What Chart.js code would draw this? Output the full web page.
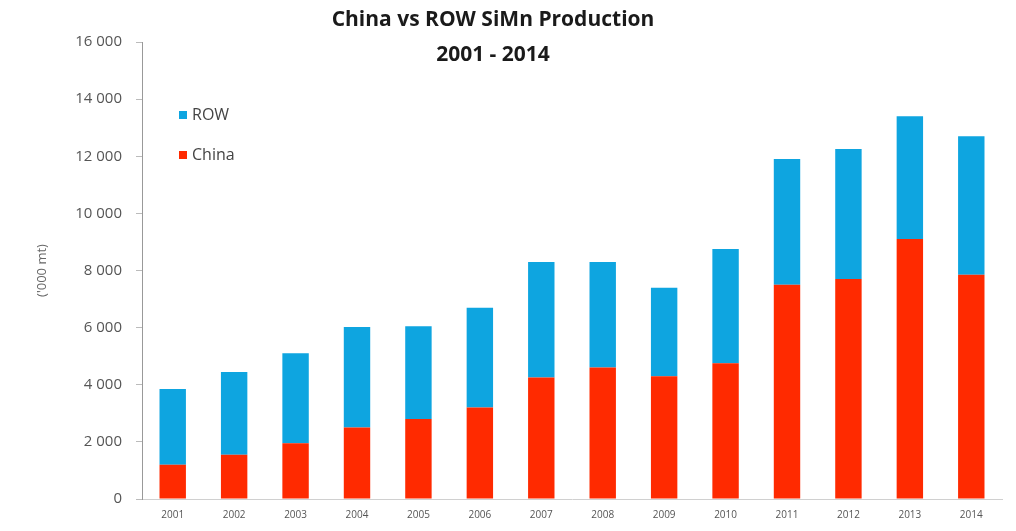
<!DOCTYPE html>
<html>
<head>
<meta charset="utf-8">
<title>China vs ROW SiMn Production</title>
<script src="https://cdn.jsdelivr.net/npm/chart.js@4.4.1/dist/chart.umd.min.js"></script>
<style>
  html, body { margin: 0; padding: 0; background: #fff; }
  #wrap { width: 1016px; height: 531px; }
</style>
</head>
<body>
<div id="wrap"><canvas id="simn"></canvas></div>
<script>
// years on the x axis
const years = ['2001', '2002', '2003', '2004', '2005', '2006', '2007',
               '2008', '2009', '2010', '2011', '2012', '2013', '2014'];
// production, '000 mt
const china = [1200, 1550, 1950, 2500, 2800, 3200, 4250, 4600, 4300, 4750, 7500, 7700, 9100, 7850];
const row   = [2650, 2900, 3150, 3525, 3250, 3500, 4050, 3700, 3100, 4000, 4400, 4550, 4300, 4850];
const yTicks = [0, 2000, 4000, 6000, 8000, 10000, 12000, 14000, 16000];

const titleLines = ['China vs ROW SiMn Production', '2001 - 2014'];

// title and in-plot legend
const extras = {
    id: 'extras',
    afterDraw(chart) {
        const ctx = chart.ctx;
        ctx.save();
        ctx.fillStyle = '#1a1a1a';
        ctx.font = 'bold 21px "Open Sans", sans-serif';
        ctx.textAlign = 'center';
        ctx.textBaseline = 'middle';
        ctx.fillText(titleLines[0], 493, 20);
        ctx.fillText(titleLines[1], 493, 55);

        // legend: last dataset on top
        const sets = chart.data.datasets.slice().reverse();
        ctx.font = '16px "Open Sans", sans-serif';
        ctx.textAlign = 'left';
        sets.forEach((ds, i) => {
            const y = 115 + i * 40;
            ctx.fillStyle = ds.backgroundColor;
            ctx.fillRect(179, y - 4, 8, 8);
            ctx.fillStyle = '#444';
            ctx.fillText(ds.label, 192, y);
        });
        ctx.restore();
    }
};

const ctx = document.getElementById('simn').getContext('2d');
const chart = new Chart(ctx, {
    type: 'bar',
    data: {
        labels: years,
        datasets: [{
            label: 'China',
            data: china,
            backgroundColor: '#ff2a00',
            barPercentage: 0.43,
            categoryPercentage: 1
        }, {
            label: 'ROW',
            data: row,
            backgroundColor: '#0ea5e0',
            barPercentage: 0.43,
            categoryPercentage: 1
        }]
    },
    options: {
        responsive: true,
        maintainAspectRatio: false,
        animation: false,
        layout: {
            padding: { left: 30, right: 14, top: 42, bottom: 4 }
        },
        plugins: {
            legend: { display: false },
            tooltip: { enabled: false }
        },
        scales: {
            x: {
                stacked: true,
                grid: { display: false, drawTicks: false },
                border: { display: true, color: '#d0d0d0' },
                ticks: {
                    color: '#555',
                    font: { family: 'Open Sans', size: 10 },
                    padding: 10,
                    maxRotation: 0
                },
                afterFit(scale) { scale.height = 28; }
            },
            y: {
                stacked: true,
                min: 0,
                max: 16000,
                afterBuildTicks(scale) {
                    scale.ticks = yTicks.map(v => ({ value: v }));
                },
                grid: {
                    display: true,
                    drawOnChartArea: false,
                    drawTicks: true,
                    tickLength: 6,
                    color: '#bbb'
                },
                border: { display: true, color: '#999' },
                ticks: {
                    color: '#555',
                    font: { family: 'Open Sans', size: 15 },
                    padding: 14,
                    callback: v => v.toLocaleString('en-US').replace(/,/g, ' ')
                },
                title: {
                    display: true,
                    text: "('000 mt)",
                    color: '#666',
                    font: { family: 'Open Sans', size: 13 },
                    padding: { bottom: 6 }
                },
                afterFit(scale) { scale.width = 112; }
            }
        }
    },
    plugins: [extras]
});
</script>
</body>
</html>
